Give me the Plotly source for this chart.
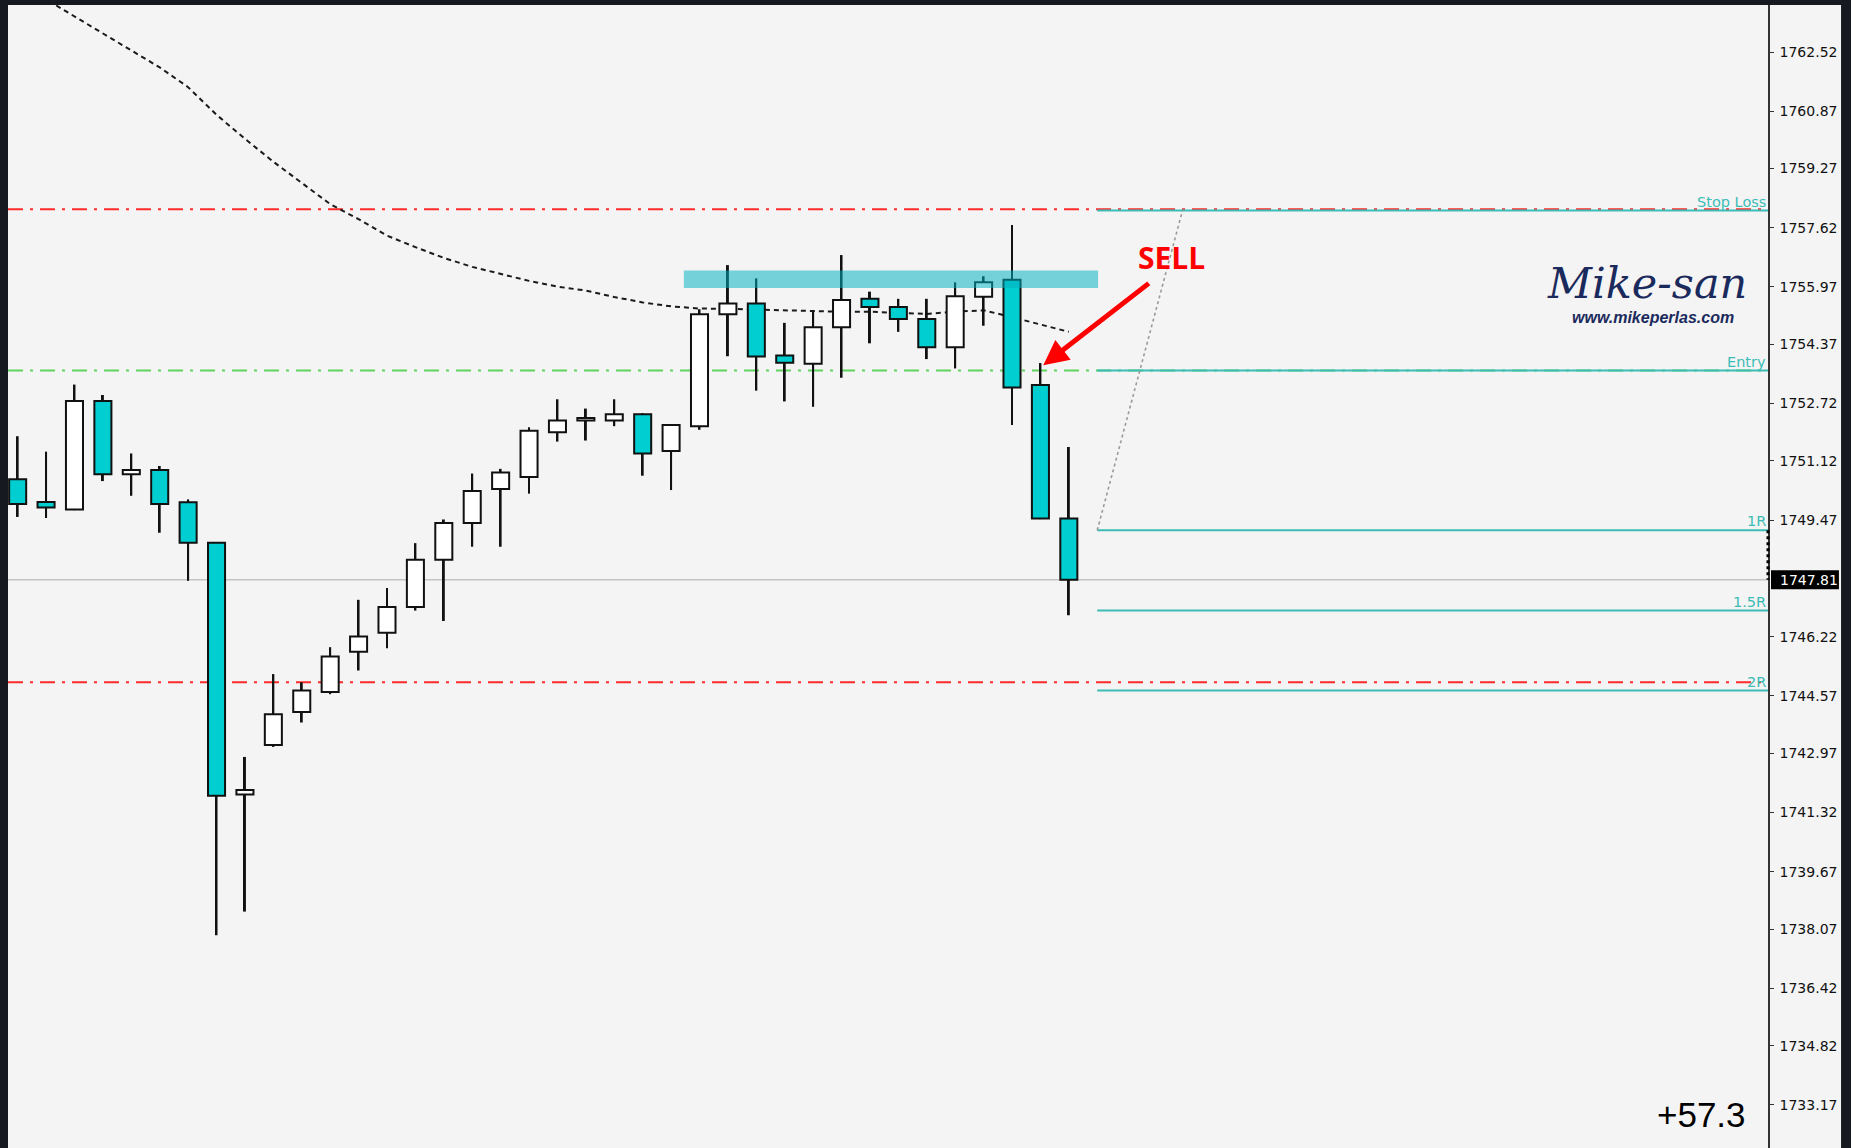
import plotly.graph_objects as go

# ---------------- data ----------------
candle_idx = list(range(38))
opens = [1750.61, 1749.98, 1749.77, 1752.79, 1750.75, 1750.87, 1749.97, 1748.84,
         1741.82, 1743.20, 1744.12, 1744.68, 1745.80, 1746.33, 1747.05, 1748.37,
         1749.39, 1750.34, 1750.67, 1751.92, 1752.25, 1752.25, 1752.42, 1751.40,
         1752.09, 1755.21, 1755.51, 1754.06, 1753.83, 1754.85, 1755.64, 1755.41,
         1755.08, 1754.29, 1755.70, 1756.17, 1753.24, 1749.52]
highs = [1751.81, 1751.38, 1753.25, 1752.96, 1751.33, 1750.98, 1750.05, 1748.86,
         1742.87, 1745.18, 1744.95, 1745.93, 1747.25, 1747.58, 1748.83, 1749.49,
         1750.77, 1750.90, 1752.06, 1752.84, 1752.58, 1752.84, 1752.45, 1752.14,
         1755.35, 1756.58, 1756.21, 1754.97, 1755.28, 1756.86, 1755.84, 1755.64,
         1755.64, 1756.10, 1756.27, 1757.70, 1753.85, 1751.51]
lows = [1749.56, 1749.53, 1749.75, 1750.56, 1750.15, 1749.12, 1747.78, 1737.90,
        1738.56, 1743.15, 1743.83, 1744.62, 1745.28, 1745.90, 1746.95, 1746.66,
        1748.73, 1748.73, 1750.21, 1751.66, 1751.69, 1752.09, 1750.71, 1750.31,
        1751.99, 1754.04, 1753.08, 1752.78, 1752.63, 1753.44, 1754.40, 1754.72,
        1753.96, 1753.70, 1754.89, 1752.12, 1749.50, 1746.82]
closes = [1749.92, 1749.82, 1752.79, 1750.75, 1750.87, 1749.92, 1748.84, 1741.79,
          1741.95, 1744.06, 1744.72, 1745.67, 1746.23, 1747.05, 1748.37, 1749.39,
          1750.28, 1750.80, 1751.96, 1752.25, 1752.32, 1752.42, 1751.33, 1752.12,
          1755.21, 1755.51, 1754.03, 1753.86, 1754.85, 1755.61, 1755.41, 1755.08,
          1754.29, 1755.71, 1756.10, 1753.17, 1749.52, 1747.81]
moving_avg = [1764.46, 1763.99, 1763.52, 1763.05, 1762.58, 1762.09, 1761.54, 1760.77,
              1760.10, 1759.46, 1758.87, 1758.28, 1757.86, 1757.40, 1757.08, 1756.78,
              1756.53, 1756.34, 1756.14, 1755.98, 1755.87, 1755.69, 1755.54, 1755.43,
              1755.37, 1755.36, 1755.34, 1755.31, 1755.28, 1755.28, 1755.28, 1755.25,
              1755.22, 1755.28, 1755.32, 1755.13, 1754.92, 1754.72]

tick_vals = [1762.52, 1760.87, 1759.27, 1757.62, 1755.97, 1754.37, 1752.72, 1751.12,
             1749.47, 1746.22, 1744.57, 1742.97, 1741.32, 1739.67, 1738.07, 1736.42,
             1734.82, 1733.17]
tick_text = ["%.2f" % v for v in tick_vals]

current_price = 1747.81
level_names = ["Stop Loss", "Entry", "1R", "1.5R", "2R"]
level_values = [1758.10, 1753.64, 1749.19, 1746.95, 1744.72]
level_start = 38
red_lines = [1758.14, 1744.95]
green_line = 1753.64
zone_x = [23.45, 38.03]
zone_y = [1755.94, 1756.43]
diag_x = [38, 41]
diag_y = [1749.19, 1758.10]
profit_text = "+57.3"

X_RANGE = [-0.34, 61.61]
Y_RANGE = [1731.97, 1763.83]

BG = "#f4f4f4"
DARK = "#161a20"
CYAN = "#00ced1"
TEAL = "#3bbcb6"
RED = "#ff2a2a"

fig = go.Figure()

# moving average (base subplot, below candles)
fig.add_trace(go.Scatter(x=candle_idx, y=moving_avg, mode="lines",
                         line=dict(color="#1a1a1a", width=2, dash="5px,4px"),
                         hoverinfo="skip", showlegend=False, xaxis="x", yaxis="y"))
# trend line (dotted)
fig.add_trace(go.Scatter(x=diag_x, y=diag_y, mode="lines",
                         line=dict(color="#9a9a9a", width=1.6, dash="dot"),
                         hoverinfo="skip", showlegend=False, xaxis="x", yaxis="y"))

# wicks
fig.add_trace(go.Bar(x=candle_idx, base=lows, y=[h - l for h, l in zip(highs, lows)],
                     width=0.07, marker=dict(color="#111111", line=dict(width=0)),
                     hoverinfo="skip", showlegend=False, xaxis="x2", yaxis="y2"))

bull_x, bull_b, bull_h = [], [], []
bear_x, bear_b, bear_h = [], [], []
for i, o, c in zip(candle_idx, opens, closes):
    if c >= o:
        bull_x.append(i); bull_b.append(o); bull_h.append(c - o)
    else:
        bear_x.append(i); bear_b.append(c); bear_h.append(o - c)

fig.add_trace(go.Bar(x=bull_x, base=bull_b, y=bull_h, width=0.6,
                     marker=dict(color="#ffffff", line=dict(color="#111111", width=2)),
                     hoverinfo="skip", showlegend=False, xaxis="x2", yaxis="y2"))
fig.add_trace(go.Bar(x=bear_x, base=bear_b, y=bear_h, width=0.6,
                     marker=dict(color=CYAN, line=dict(color="#111111", width=2)),
                     hoverinfo="skip", showlegend=False, xaxis="x2", yaxis="y2"))

shapes = []
# light background behind the price scale
shapes.append(dict(type="rect", xref="paper", yref="paper", x0=1, x1=1.0415, y0=0, y1=1,
                   fillcolor=BG, line=dict(width=0), layer="below"))
# current price line
shapes.append(dict(type="line", xref="paper", yref="y", x0=0, x1=1,
                   y0=current_price, y1=current_price,
                   line=dict(color="#c4c4c4", width=1.5), layer="below"))
for v in red_lines:
    shapes.append(dict(type="line", xref="paper", yref="y", x0=0, x1=1, y0=v, y1=v,
                       line=dict(color=RED, width=2, dash="15px,7px,3px,7px"), layer="below"))
shapes.append(dict(type="line", xref="paper", yref="y", x0=0, x1=1, y0=green_line, y1=green_line,
                   line=dict(color="#5ed35e", width=2, dash="15px,7px,3px,7px"), layer="below"))
for v in level_values:
    shapes.append(dict(type="line", xref="x", yref="y", x0=level_start, x1=X_RANGE[1], y0=v, y1=v,
                       line=dict(color=TEAL, width=2), layer="below"))
# resistance zone
shapes.append(dict(type="rect", xref="x", yref="y", x0=zone_x[0], x1=zone_x[1],
                   y0=zone_y[0], y1=zone_y[1], fillcolor="rgba(0,176,192,0.52)",
                   line=dict(width=0), layer="above"))
# dotted marker on the price scale
shapes.append(dict(type="line", xref="paper", yref="y", x0=1, x1=1,
                   y0=level_values[2], y1=current_price,
                   line=dict(color="#000000", width=3, dash="dot"), layer="above"))
# current price box
shapes.append(dict(type="rect", xref="paper", yref="y", x0=1.0017, x1=1.0403,
                   y0=current_price - 0.265, y1=current_price + 0.265,
                   fillcolor="#000000", line=dict(width=0), layer="above"))

annotations = []
for name, v in zip(level_names, level_values):
    annotations.append(dict(xref="paper", yref="y", x=1, y=v, text=name, showarrow=False,
                            xanchor="right", yanchor="bottom", yshift=-1,
                            font=dict(family="DejaVu Sans", size=14.5, color=TEAL)))
annotations.append(dict(xref="paper", yref="y", x=1.0058, y=current_price,
                        text="%.2f" % current_price, showarrow=False,
                        xanchor="left", yanchor="middle",
                        font=dict(family="DejaVu Sans", size=14, color="#ffffff")))
annotations.append(dict(xref="x", yref="y", x=40.63, y=1756.80, text="<b>SELL</b>",
                        showarrow=False, font=dict(family="Open Sans", size=30, color="#ff0000")))
annotations.append(dict(xref="x", yref="y", x=36.10, y=1753.79, text="", showarrow=True,
                        ax=107, ay=-83, arrowhead=2, arrowsize=1, arrowwidth=5,
                        arrowcolor="#ff0000"))
annotations.append(dict(xref="x", yref="y", x=57.35, y=1756.08, text="<i>Mike-san</i>",
                        showarrow=False,
                        font=dict(family="DejaVu Serif", size=43, color="#1b2a5c")))
annotations.append(dict(xref="x", yref="y", x=57.56, y=1755.13, text="<b><i>www.mikeperlas.com</i></b>",
                        showarrow=False,
                        font=dict(family="Liberation Sans Narrow, Liberation Sans", size=16,
                                  color="#1b2a5c")))
annotations.append(dict(xref="paper", yref="paper", x=0.9886, y=0.0289, text=profit_text,
                        showarrow=False, xanchor="right", yanchor="middle",
                        font=dict(family="Liberation Sans", size=35, color="#000000")))

fig.update_layout(
    width=1851, height=1148,
    margin=dict(l=8, r=83, t=5, b=0),
    paper_bgcolor=DARK, plot_bgcolor=BG,
    barmode="overlay", showlegend=False,
    xaxis=dict(range=X_RANGE, visible=False, fixedrange=True),
    xaxis2=dict(range=X_RANGE, visible=False, overlaying="x", fixedrange=True),
    yaxis=dict(range=Y_RANGE, side="right", tickvals=tick_vals, ticktext=tick_text,
               showgrid=False, zeroline=False, showline=True, linecolor="#333333",
               linewidth=1.5, ticks="outside", ticklen=4, tickcolor="#333333",
               ticklabelstandoff=3,
               tickfont=dict(family="DejaVu Sans", size=14, color="#111111"),
               fixedrange=True),
    yaxis2=dict(range=Y_RANGE, visible=False, overlaying="y", fixedrange=True),
    shapes=shapes, annotations=annotations,
)

fig.write_html("out.html", config={"displayModeBar": False},
               post_script="document.body.style.margin='0';document.body.style.overflow='hidden';")
